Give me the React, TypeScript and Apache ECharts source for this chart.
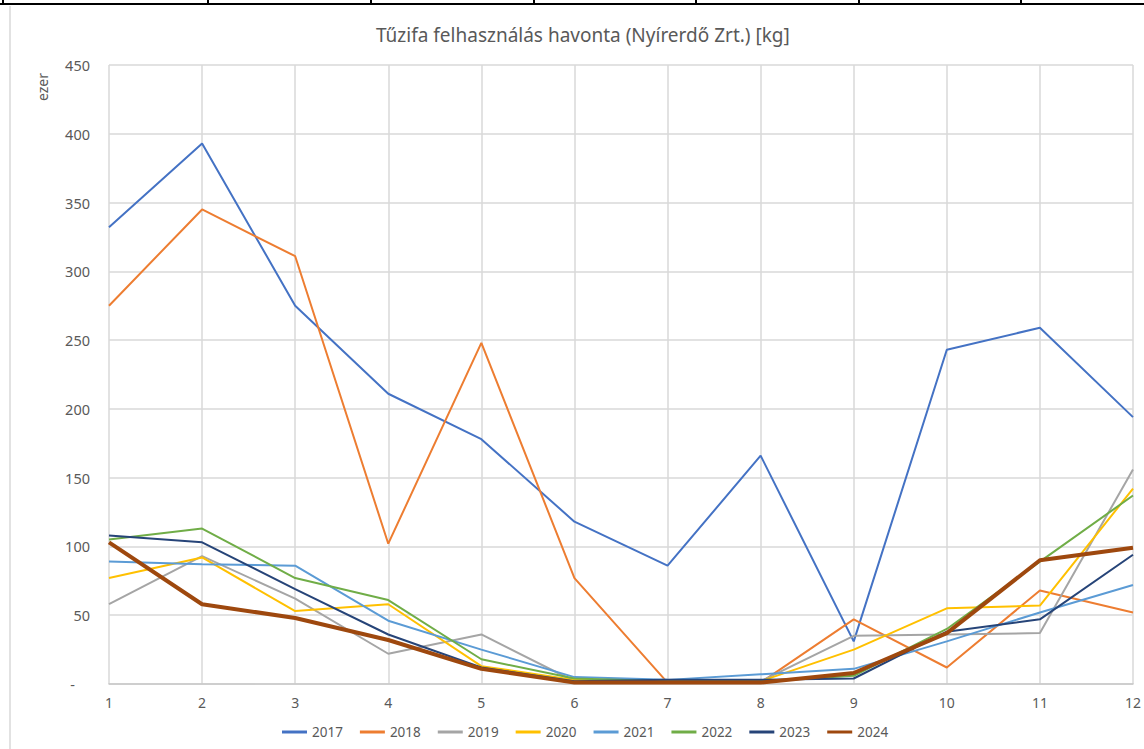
import React, { useEffect, useRef } from "react";
import * as echarts from "echarts";

const months = ["1", "2", "3", "4", "5", "6", "7", "8", "9", "10", "11", "12"];
const years = ["2017", "2018", "2019", "2020", "2021", "2022", "2023", "2024"];
const colors = ["#4472C4", "#ED7D31", "#A5A5A5", "#FFC000", "#5B9BD5", "#70AD47", "#264478", "#9E480E"];

const s2017 = [332, 393, 275, 211, 178, 118, 86, 166, 31, 243, 259, 194];
const s2018 = [275, 345, 311, 102, 248, 77, 1, 1, 47, 12, 68, 52];
const s2019 = [58, 93, 62, 22, 36, 2, 2, 2, 35, 36, 37, 156];
const s2020 = [77, 92, 53, 58, 13, 3, 2, 2, 25, 55, 57, 142];
const s2021 = [89, 87, 86, 46, 25, 5, 3, 7, 11, 31, 52, 72];
const s2022 = [105, 113, 77, 61, 18, 4, 2, 2, 6, 40, 89, 137];
const s2023 = [108, 103, 69, 36, 12, 2, 3, 3, 4, 38, 47, 94];
const s2024 = [103, 58, 48, 32, 11, 1, 1, 1, 8, 37, 90, 99];

const seriesData = [s2017, s2018, s2019, s2020, s2021, s2022, s2023, s2024];

const title = "Tűzifa felhasználás havonta (Nyírerdő Zrt.) [kg]";
const yName = "ezer";

export default function App() {
  const ref = useRef<HTMLDivElement>(null);
  useEffect(() => {
    if (!ref.current) return;
    const chart = echarts.init(ref.current, null, { renderer: "svg" });
    const font = "'Noto Sans', sans-serif";
    const topVerts = [3, 208, 371, 534, 696, 859, 1021];
    chart.setOption({
      animation: false,
      backgroundColor: "#ffffff",
      textStyle: { fontFamily: font },
      title: {
        text: title,
        left: 371,
        top: 20,
        textStyle: { fontSize: 19, fontWeight: "normal", color: "#595959", fontFamily: font },
      },
      grid: { left: 109, right: 11, top: 65, bottom: 65, containLabel: false },
      legend: {
        bottom: 5,
        left: 277,
        data: years,
        icon: "rect",
        itemWidth: 25,
        itemHeight: 3,
        itemGap: 17,
        textStyle: { color: "#595959", fontSize: 13.5, fontFamily: font },
      },
      xAxis: {
        type: "category",
        data: months,
        boundaryGap: false,
        axisTick: { show: false },
        axisLine: { lineStyle: { color: "#c8c8c8", width: 1.5 } },
        axisLabel: { color: "#595959", fontSize: 14, margin: 11, fontFamily: font },
        splitLine: { show: true, lineStyle: { color: "#d9d9d9", width: 1.5 } },
      },
      yAxis: {
        type: "value",
        min: 0,
        max: 450,
        interval: 50,
        axisLine: { show: false },
        axisTick: { show: false },
        axisLabel: {
          color: "#595959",
          fontSize: 14.5,
          margin: 19,
          fontFamily: font,
          formatter: (v: number) => (v === 0 ? "-    " : String(v)),
        },
        splitLine: { lineStyle: { color: "#d9d9d9", width: 1.5 } },
      },
      graphic: [
        {
          type: "line",
          shape: { x1: 0, y1: 4, x2: 1144, y2: 4 },
          style: { stroke: "#000000", lineWidth: 2 },
        },
        ...topVerts.map((x) => ({
          type: "line",
          shape: { x1: x, y1: 0, x2: x, y2: 4 },
          style: { stroke: "#000000", lineWidth: 2 },
        })),
        {
          type: "line",
          shape: { x1: 10, y1: 6, x2: 10, y2: 749 },
          style: { stroke: "#d9d9d9", lineWidth: 1.5 },
        },
        {
          type: "text",
          x: 42,
          y: 87,
          rotation: Math.PI / 2,
          style: {
            text: yName,
            fill: "#595959",
            fontSize: 14,
            fontFamily: font,
            textAlign: "center",
            textVerticalAlign: "middle",
          },
        },
      ],
      series: years.map((y, i) => ({
        name: y,
        type: "line",
        data: seriesData[i],
        symbol: "none",
        lineStyle: { color: colors[i], width: y === "2024" ? 4 : 2 },
        itemStyle: { color: colors[i] },
      })),
    });
    return () => chart.dispose();
  }, []);
  return (
    <div
      ref={ref}
      style={{ position: "fixed", left: 0, top: 0, width: 1144, height: 749 }}
    />
  );
}
